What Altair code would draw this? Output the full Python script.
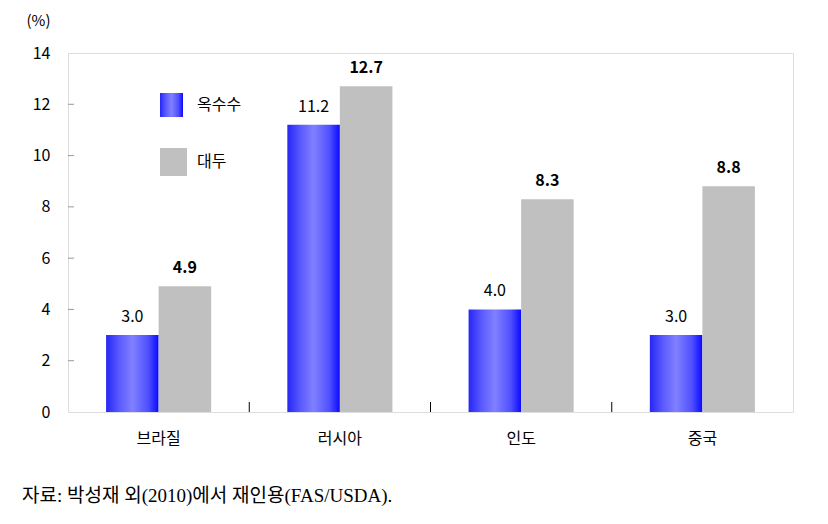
import altair as alt
import pandas as pd

countries = ["브라질", "러시아", "인도", "중국"]
series = ["옥수수", "대두"]
corn = [3.0, 11.2, 4.0, 3.0]
soy = [4.9, 12.7, 8.3, 8.8]
y_ticks = [0, 2, 4, 6, 8, 10, 12, 14]
source_note = "자료:  박성재  외(2010)에서  재인용(FAS/USDA)."

W, H = 725, 359
FONT = "Noto Sans CJK KR"

rows = []
for c, a, b in zip(countries, corn, soy):
    rows.append({"country": c, "series": series[0], "value": a, "label": f"{a:.1f}"})
    rows.append({"country": c, "series": series[1], "value": b, "label": f"{b:.1f}"})
df = pd.DataFrame(rows)

blue_grad = alt.LinearGradient(
    gradient="linear", x1=0, y1=0, x2=1, y2=0,
    stops=[
        alt.GradientStop(color="#2626f5", offset=0),
        alt.GradientStop(color="#5a5aff", offset=0.25),
        alt.GradientStop(color="#8080ff", offset=0.5),
        alt.GradientStop(color="#5050ff", offset=0.8),
        alt.GradientStop(color="#0a0aff", offset=1),
    ],
)
GRAY = "#c0c0c0"

x_enc = alt.X("country:N", sort=countries,
              scale=alt.Scale(paddingInner=0, paddingOuter=0),
              axis=alt.Axis(title=None, labelAngle=0, labelFontSize=16, labelFont=FONT,
                            labelColor="black", labelPadding=18, ticks=False, domain=False))
xoff = alt.XOffset("series:N", sort=series,
                   scale=alt.Scale(domain=series, paddingOuter=0.725, paddingInner=0))
y_enc = alt.Y("value:Q", scale=alt.Scale(domain=[0, 14], nice=False),
              axis=alt.Axis(values=y_ticks, title="(%)", titleAngle=0, titleFontSize=15,
                            titleFont=FONT, titleFontWeight="normal", titleX=-30, titleY=-33,
                            titleAlign="center", titleBaseline="middle", titleColor="black",
                            labelFontSize=16, labelFont=FONT, labelColor="black",
                            labelPadding=18, ticks=False, domain=False, grid=False))

base = alt.Chart(df)
corn_bars = base.transform_filter(alt.datum.series == series[0]).mark_bar(
    fill=blue_grad).encode(x=x_enc, xOffset=xoff, y=y_enc)
soy_bars = base.transform_filter(alt.datum.series == series[1]).mark_bar(
    color=GRAY).encode(x=x_enc, xOffset=xoff, y=y_enc)
corn_text = base.transform_filter(alt.datum.series == series[0]).mark_text(
    dy=-18, fontSize=16, font=FONT, color="black").encode(
    x=x_enc, xOffset=xoff, y=y_enc, text="label:N")
soy_text = base.transform_filter(alt.datum.series == series[1]).mark_text(
    dy=-18, fontSize=16, font=FONT, fontWeight="bold", color="black").encode(
    x=x_enc, xOffset=xoff, y=y_enc, text="label:N")

main = alt.layer(corn_bars, soy_bars, corn_text, soy_text)

# inner ticks on y
ytick_df = pd.DataFrame({"value": y_ticks[1:-1]})
ytick_rules = alt.Chart(ytick_df).mark_rule(color="#999999", strokeWidth=1).encode(
    y=alt.Y("value:Q"), x=alt.value(0), x2=alt.value(6))

# inner ticks on x at category boundaries
bound_df = pd.DataFrame({"b": list(range(1, len(countries)))})
xtick_rules = alt.Chart(bound_df).mark_rule(color="black", strokeWidth=1).encode(
    x=alt.X("b:Q", scale=alt.Scale(domain=[0, len(countries)], nice=False), axis=None),
    y=alt.value(H - 10), y2=alt.value(H))

# legend
leg_df = pd.DataFrame({"s": [series[0]]})
leg_blue = alt.Chart(leg_df).mark_rect(fill=blue_grad).encode(
    x=alt.value(92), x2=alt.value(115), y=alt.value(40), y2=alt.value(64))
leg_gray = alt.Chart(leg_df).mark_rect(fill=GRAY).encode(
    x=alt.value(92), x2=alt.value(119), y=alt.value(95), y2=alt.value(123))
leg_t1 = alt.Chart(pd.DataFrame({"s": [series[0]]})).mark_text(
    align="left", baseline="middle", fontSize=16, font=FONT, color="black").encode(
    x=alt.value(129), y=alt.value(52), text="s:N")
leg_t2 = alt.Chart(pd.DataFrame({"s": [series[1]]})).mark_text(
    align="left", baseline="middle", fontSize=16, font=FONT, color="black").encode(
    x=alt.value(129), y=alt.value(109), text="s:N")

chart = alt.layer(
    main, ytick_rules, xtick_rules, leg_blue, leg_gray, leg_t1, leg_t2
).resolve_scale(x="independent").properties(
    width=W, height=H,
    autosize=alt.AutoSizeParams(type="none"),
    padding={"left": 68, "top": 53, "right": 35, "bottom": 112},
    title=alt.TitleParams(text=source_note, orient="bottom", anchor="start", frame="group",
                          dx=-46, offset=41, fontSize=19,
                          font="Liberation Serif, Noto Sans CJK KR",
                          fontWeight="normal", color="black"),
).configure_view(stroke="black", strokeWidth=2).configure(background="white")

chart.save("out.html", embed_options={"renderer": "svg", "actions": False})
